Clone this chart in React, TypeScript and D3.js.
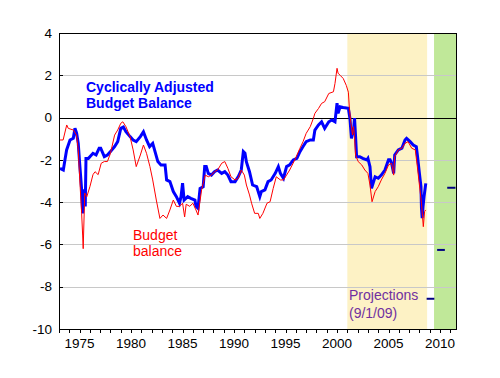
import React from "react";
import * as d3 from "d3";

const blueYears = [1973.1,1973.42,1973.58,1973.74,1974.07,1974.39,1974.55,1974.71,1974.87,1975.03,1975.2,1975.3,1975.45,1975.55,1975.62,1975.85,1976.0,1976.3,1976.6,1976.9,1977.05,1977.4,1977.7,1978.0,1978.4,1978.7,1979.0,1979.25,1979.5,1979.9,1980.2,1980.5,1980.9,1981.2,1981.5,1981.8,1982.1,1982.6,1982.9,1983.3,1983.45,1983.77,1984.1,1984.4,1984.7,1984.85,1985.0,1985.15,1985.5,1985.8,1986.2,1986.3,1986.5,1986.7,1987.0,1987.15,1987.3,1987.5,1987.8,1988.1,1988.4,1988.8,1989.1,1989.4,1989.7,1990.1,1990.4,1990.7,1990.9,1991.06,1991.2,1991.5,1991.8,1992.2,1992.5,1992.65,1993.0,1993.3,1993.6,1994.0,1994.3,1994.5,1994.8,1995.1,1995.4,1995.75,1996.1,1996.4,1996.7,1997.0,1997.4,1997.7,1997.85,1998.2,1998.5,1998.8,1999.2,1999.5,1999.8,2000.0,2000.1,2000.3,2000.6,2001.1,2001.25,2001.4,2001.6,2001.7,2001.8,2001.9,2002.2,2002.5,2002.9,2003.0,2003.2,2003.35,2003.5,2003.7,2004.0,2004.3,2004.65,2005.0,2005.15,2005.3,2005.5,2005.6,2005.95,2006.3,2006.6,2006.75,2007.1,2007.4,2007.7,2007.8,2008.0,2008.15,2008.2,2008.27,2008.35,2008.45,2008.62];
const blueValues = [-2.4,-2.48,-2.0,-1.53,-1.06,-0.98,-0.51,-0.74,-1.22,-2.32,-3.42,-4.53,-3.4,-4.2,-1.93,-1.93,-1.85,-1.69,-1.77,-1.45,-1.45,-1.85,-1.77,-1.61,-1.37,-1.14,-0.51,-0.45,-0.67,-0.9,-1.06,-1.14,-0.9,-0.67,-1.06,-1.37,-1.22,-2.08,-2.24,-2.24,-2.95,-3.03,-3.5,-3.74,-4.05,-3.74,-3.1,-3.9,-3.74,-3.82,-3.9,-4.2,-4.29,-3.35,-3.27,-2.32,-2.32,-2.64,-2.72,-2.56,-2.48,-2.64,-2.56,-2.72,-3.03,-3.03,-2.8,-2.48,-1.61,-1.69,-2.1,-2.56,-3.19,-3.27,-3.74,-3.5,-3.42,-3.03,-2.95,-2.64,-2.32,-2.64,-2.87,-2.32,-2.24,-2.0,-1.93,-1.61,-1.37,-1.14,-1.06,-1.06,-0.59,-0.35,-0.2,-0.51,-0.2,-0.11,-0.2,0.68,0.2,0.51,0.48,0.44,-0.03,-0.98,-0.59,-0.03,-0.9,-1.85,-1.85,-1.93,-2.0,-1.93,-2.32,-3.35,-3.11,-2.8,-2.87,-2.72,-2.48,-2.0,-2.0,-2.16,-2.64,-1.77,-1.53,-1.45,-1.06,-0.98,-1.14,-1.3,-1.38,-1.77,-2.64,-3.27,-4.28,-4.76,-4.21,-3.74,-3.11];

const redYears = [1973.1,1973.4,1973.75,1973.9,1974.4,1974.7,1974.87,1975.0,1975.2,1975.3,1975.35,1975.5,1975.7,1976.0,1976.3,1976.5,1976.8,1977.1,1977.4,1977.7,1978.0,1978.4,1978.7,1979.0,1979.2,1979.5,1979.9,1980.2,1980.5,1980.9,1981.2,1981.5,1981.83,1982.1,1982.45,1982.8,1983.1,1983.45,1983.77,1984.1,1984.4,1984.7,1985.0,1985.2,1985.35,1985.7,1986.0,1986.3,1986.5,1986.85,1987.2,1987.5,1987.8,1988.1,1988.4,1988.8,1989.1,1989.4,1989.7,1990.1,1990.4,1990.7,1991.0,1991.2,1991.5,1991.7,1992.0,1992.35,1992.5,1992.8,1993.2,1993.5,1993.8,1994.1,1994.5,1994.8,1995.1,1995.4,1995.9,1996.4,1996.7,1997.0,1997.4,1997.7,1997.85,1998.2,1998.5,1998.8,1999.2,1999.65,1999.8,2000.0,2000.1,2000.3,2000.6,2000.9,2001.1,2001.2,2001.35,2001.5,2001.6,2001.7,2001.8,2002.05,2002.4,2002.7,2003.0,2003.2,2003.4,2003.7,2004.0,2004.3,2004.65,2005.0,2005.3,2005.5,2005.6,2005.95,2006.3,2006.6,2006.9,2007.25,2007.6,2007.8,2008.0,2008.2,2008.3,2008.38,2008.5,2008.6];
const redValues = [-1.06,-1.06,-0.35,-0.51,-0.59,-0.83,-1.53,-2.8,-4.53,-5.6,-6.2,-3.57,-3.74,-3.27,-2.7,-2.56,-2.7,-2.16,-2.08,-2.08,-1.69,-0.83,-0.59,-0.27,-0.2,-0.43,-0.9,-1.53,-2.32,-1.77,-1.3,-1.69,-2.32,-2.95,-3.9,-4.77,-4.61,-4.77,-4.37,-3.9,-4.2,-4.2,-4.05,-4.7,-4.1,-4.2,-4.05,-4.37,-4.61,-3.42,-2.72,-2.8,-2.72,-2.56,-2.48,-2.16,-2.08,-2.4,-2.8,-2.95,-2.87,-2.48,-2.72,-3.19,-3.66,-4.05,-4.53,-4.53,-4.77,-4.53,-4.05,-3.98,-3.35,-2.8,-2.95,-2.95,-2.72,-2.48,-2.0,-1.45,-1.14,-0.75,-0.43,-0.04,0.2,0.43,0.67,0.75,1.14,1.22,1.61,2.33,2.1,2.0,1.85,1.52,1.2,0.42,-0.27,-0.82,-0.43,-0.9,-1.77,-2.08,-2.24,-2.48,-2.64,-3.19,-3.98,-3.5,-3.27,-2.95,-2.64,-2.24,-2.16,-2.72,-1.85,-1.53,-1.45,-1.22,-1.14,-1.45,-1.53,-2.32,-3.19,-4.05,-4.69,-5.16,-4.45,-4.37];

const projStart = [2008.7, 2009.72, 2010.7];
const projEnd = [2009.45, 2010.47, 2011.5];
const projValues = [-8.57, -6.26, -3.32];

const bushBand = [2001.0, 2008.75];
const obamaBand = [2009.42, 2011.65];

const yTicks = [4, 2, 0, -2, -4, -6, -8, -10];
const gridValues = [2, -2, -4, -6, -8];
const xLabelYears = [1975, 1980, 1985, 1990, 1995, 2000, 2005, 2010];
const xTickYears = d3.range(1973, 2012);

export default function App() {
  const x = d3.scaleLinear().domain([1973, 2011.65]).range([59, 457]);
  const y = d3.scaleLinear().domain([-10, 4]).range([329, 33]);
  const line = d3.line<[number, number]>().x(d => x(d[0])).y(d => y(d[1]));
  const blue: [number, number][] = blueYears.map((t, i) => [t, blueValues[i]]);
  const red: [number, number][] = redYears.map((t, i) => [t, redValues[i]]);
  const font = "Arial, 'Liberation Sans', sans-serif";
  const [x0, x1] = x.range();
  const [yb, yt] = y.range();
  return (
    <div style={{ position: "absolute", left: 0, top: 0 }}>
      <svg width={500} height={378} style={{ display: "block", background: "#fff" }} fontFamily={font}>
        <rect x={x(bushBand[0])} y={yt} width={x(bushBand[1]) - x(bushBand[0])} height={yb - yt} fill="#FDF2C5" />
        <rect x={x(obamaBand[0])} y={yt} width={x(obamaBand[1]) - x(obamaBand[0])} height={yb - yt} fill="#C0E899" />
        {gridValues.map(v => (
          <line key={v} x1={x0} x2={x1} y1={Math.round(y(v)) + 0.5} y2={Math.round(y(v)) + 0.5} stroke="#C8C8C8" strokeWidth={1} />
        ))}
        <line x1={x0} x2={x1} y1={Math.round(y(0)) + 0.5} y2={Math.round(y(0)) + 0.5} stroke="#000" strokeWidth={1} />
        <path d={line(blue) || ""} fill="none" stroke="#0000FF" strokeWidth={3} strokeLinejoin="miter" />
        <path d={line(red) || ""} fill="none" stroke="#FF0000" strokeWidth={1} />
        {projValues.map((v, i) => (
          <line key={i} x1={x(projStart[i])} x2={x(projEnd[i])} y1={y(v)} y2={y(v)} stroke="#000080" strokeWidth={2} />
        ))}
        <rect x={x0 + 0.5} y={yt + 0.5} width={x1 - x0 - 1} height={yb - yt} fill="none" stroke="#000" strokeWidth={1} />
        {xTickYears.map(t => (
          <line key={t} x1={Math.round(x(t)) + 0.5} x2={Math.round(x(t)) + 0.5} y1={yb} y2={yb + 4} stroke="#000" strokeWidth={1} />
        ))}
        {xLabelYears.map(t => (
          <text key={t} x={x(t)} y={348} textAnchor="middle" fontSize={13.5} fill="#000">{t}</text>
        ))}
        {yTicks.map(v => (
          <g key={v}>
            <line x1={x0} x2={x0 + 4} y1={Math.round(y(v)) + 0.5} y2={Math.round(y(v)) + 0.5} stroke="#000" />
            <text x={52} y={y(v)} dy="0.35em" textAnchor="end" fontSize={13.5} fill="#000">{v}</text>
          </g>
        ))}
        <text x={86} y={91.5} fontSize={14} fontWeight="bold" fill="#0000FF">Cyclically Adjusted</text>
        <text x={86} y={108} fontSize={14} fontWeight="bold" fill="#0000FF">Budget Balance</text>
        <text x={133} y={240} fontSize={14} fill="#FF0000">Budget</text>
        <text x={133} y={256} fontSize={14} fill="#FF0000">balance</text>
        <text x={349} y={300} fontSize={14} fill="#7030A0">Projections</text>
        <text x={349} y={318} fontSize={14} fill="#7030A0">(9/1/09)</text>
      </svg>
    </div>
  );
}
